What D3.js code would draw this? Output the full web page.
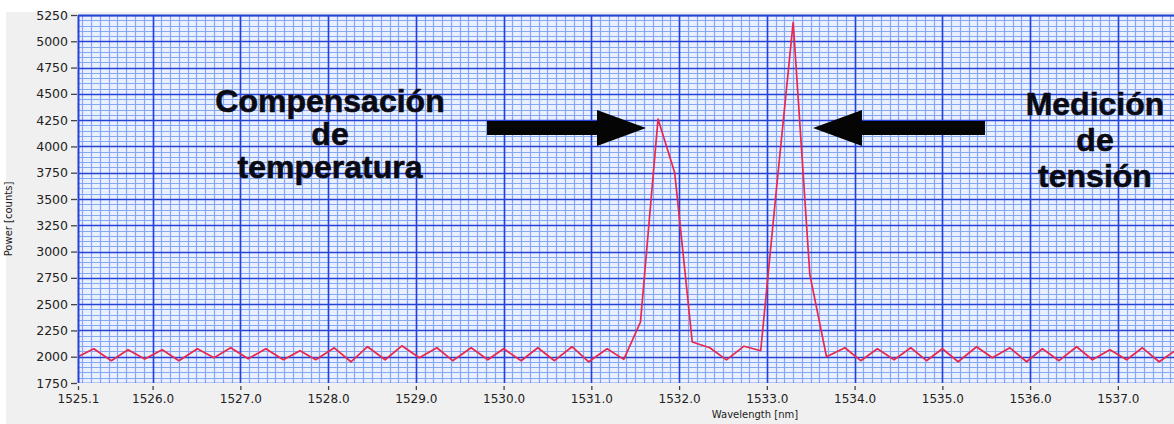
<!DOCTYPE html>
<html>
<head>
<meta charset="utf-8">
<script src="https://cdn.jsdelivr.net/npm/d3@7"></script>
<style>
  html, body { margin: 0; padding: 0; background: #ffffff; }
  svg { display: block; }
</style>
</head>
<body>
<svg id="chart" width="1174" height="424"></svg>
<script>
// Spectrum samples: wavelength (nm) and detected power (counts)
const wavelength = [
  1525.15, 1525.33, 1525.53, 1525.72, 1525.91, 1526.11, 1526.30, 1526.51, 1526.70, 1526.89,
  1527.09, 1527.29, 1527.49, 1527.68, 1527.86, 1528.07, 1528.26, 1528.45, 1528.65, 1528.84,
  1529.04, 1529.24, 1529.42, 1529.63, 1529.82, 1530.00, 1530.20, 1530.39, 1530.58, 1530.78,
  1530.97, 1531.18, 1531.37, 1531.56, 1531.76, 1531.95, 1532.15, 1532.35, 1532.54, 1532.74,
  1532.93, 1533.11, 1533.30, 1533.49, 1533.68, 1533.89, 1534.07, 1534.26, 1534.45, 1534.64,
  1534.82, 1535.00, 1535.18, 1535.39, 1535.57, 1535.77, 1535.96, 1536.14, 1536.33, 1536.53,
  1536.71, 1536.91, 1537.10, 1537.28, 1537.47, 1537.67
];
const power = [
  2000, 2076, 1962, 2066, 1978, 2066, 1962, 2076, 1990, 2085,
  1980, 2076, 1971, 2057, 1971, 2085, 1952, 2095, 1971, 2104,
  1990, 2085, 1962, 2085, 1971, 2076, 1962, 2085, 1962, 2095,
  1952, 2076, 1975, 2330, 4260, 3750, 2140, 2085, 1970, 2100,
  2057, 3600, 5180, 2780, 2000, 2085, 1962, 2076, 1971, 2085,
  1962, 2076, 1952, 2095, 1990, 2085, 1952, 2076, 1962, 2095,
  1971, 2066, 1971, 2085, 1952, 2066
];

// Axis ticks
const xTickValues = [1525.15, 1526, 1527, 1528, 1529, 1530, 1531, 1532, 1533, 1534, 1535, 1536, 1537];
const xTickLabels = ["1525.1", "1526.0", "1527.0", "1528.0", "1529.0", "1530.0", "1531.0",
                     "1532.0", "1533.0", "1534.0", "1535.0", "1536.0", "1537.0"];
const yTickValues = [1750, 2000, 2250, 2500, 2750, 3000, 3250, 3500, 3750, 4000, 4250, 4500, 4750, 5000, 5250];

// Annotation texts
const leftNote = ["Compensación", "de", "temperatura"];
const rightNote = ["Medición", "de", "tensión"];

const xDomain = [1525.15, 1537.64];
const yDomain = [1750, 5250];

const svg = d3.select("#chart");
const W = 1174, H = 424;
const plot = { left: 78, top: 15, right: 1174, bottom: 383 };

const x = d3.scaleLinear().domain(xDomain).range([plot.left, plot.right]);
const y = d3.scaleLinear().domain(yDomain).range([plot.bottom, plot.top]);

// Window background
svg.append("rect").attr("x", 0).attr("y", 0).attr("width", W).attr("height", H).attr("fill", "#ffffff");
svg.append("rect").attr("x", 6).attr("y", 12).attr("width", W - 6).attr("height", H - 12).attr("fill", "#f0f0f0");

svg.append("defs").append("clipPath").attr("id", "plotClip")
  .append("rect")
  .attr("x", plot.left).attr("y", plot.top)
  .attr("width", plot.right - plot.left).attr("height", plot.bottom - plot.top);

const g = svg.append("g").attr("clip-path", "url(#plotClip)");

g.append("rect")
  .attr("x", plot.left).attr("y", plot.top)
  .attr("width", plot.right - plot.left).attr("height", plot.bottom - plot.top)
  .attr("fill", "#eaf0ff");

// Minor grid: 0.1 nm and 50 counts
const minorX = d3.range(Math.ceil(xDomain[0] * 10), Math.floor(xDomain[1] * 10) + 1).map(d => d / 10);
const minorY = d3.range(yDomain[0], yDomain[1] + 1, 50);
g.append("g").selectAll("line").data(minorX).join("line")
  .attr("x1", d => Math.round(x(d)) + 0.5).attr("x2", d => Math.round(x(d)) + 0.5)
  .attr("y1", plot.top).attr("y2", plot.bottom)
  .attr("stroke", "#86a8f0").attr("stroke-width", 1.2);
g.append("g").selectAll("line").data(minorY).join("line")
  .attr("y1", d => Math.round(y(d)) + 0.5).attr("y2", d => Math.round(y(d)) + 0.5)
  .attr("x1", plot.left).attr("x2", plot.right)
  .attr("stroke", "#86a8f0").attr("stroke-width", 1.2);

// Major grid: 1 nm and 250 counts
const majorX = d3.range(Math.ceil(xDomain[0]), Math.floor(xDomain[1]) + 1);
g.append("g").selectAll("line").data(majorX).join("line")
  .attr("x1", d => Math.round(x(d)) + 0.5).attr("x2", d => Math.round(x(d)) + 0.5)
  .attr("y1", plot.top).attr("y2", plot.bottom)
  .attr("stroke", "#2443d6").attr("stroke-width", 1.6);
g.append("g").selectAll("line").data(yTickValues).join("line")
  .attr("y1", d => Math.round(y(d)) + 0.5).attr("y2", d => Math.round(y(d)) + 0.5)
  .attr("x1", plot.left).attr("x2", plot.right)
  .attr("stroke", "#2443d6").attr("stroke-width", 1.6);

// Plot frame (left and top edges)
svg.append("line").attr("x1", plot.left + 0.5).attr("x2", plot.left + 0.5)
  .attr("y1", plot.top).attr("y2", plot.bottom).attr("stroke", "#2443d6").attr("stroke-width", 2);
svg.append("line").attr("x1", plot.left).attr("x2", plot.right)
  .attr("y1", plot.top + 0.5).attr("y2", plot.top + 0.5).attr("stroke", "#2443d6").attr("stroke-width", 2);

// Spectrum trace
const line = d3.line().x((d, i) => x(wavelength[i])).y(d => y(d));
g.append("path").datum(power)
  .attr("d", line)
  .attr("fill", "none")
  .attr("stroke", "#e8284e")
  .attr("stroke-width", 1.7)
  .attr("stroke-linejoin", "round");

// Y axis ticks and labels
const yAxis = d3.axisLeft(y).tickValues(yTickValues).tickSize(6).tickPadding(3).tickFormat(d3.format("d"));
const ya = svg.append("g").attr("transform", `translate(${plot.left - 1},0)`).call(yAxis);
ya.select(".domain").remove();
ya.selectAll(".tick line").attr("stroke", "#444").attr("stroke-width", 1.3);
ya.selectAll(".tick text").attr("fill", "#222").style("font-family", "'DejaVu Sans', Verdana, sans-serif").style("font-size", "12.5px");

// X axis ticks and labels
const xAxis = d3.axisBottom(x).tickValues(xTickValues).tickSize(4).tickPadding(4)
  .tickFormat((d, i) => xTickLabels[i]);
const xa = svg.append("g").attr("transform", `translate(0,${plot.bottom + 3})`).call(xAxis);
xa.select(".domain").remove();
xa.selectAll(".tick line").attr("stroke", "#444").attr("stroke-width", 1.3);
xa.selectAll(".tick text").attr("fill", "#222").style("font-family", "'DejaVu Sans', Verdana, sans-serif").style("font-size", "12px");

// Axis titles
svg.append("text")
  .attr("x", 755).attr("y", 418)
  .attr("text-anchor", "middle")
  .style("font-family", "'DejaVu Sans', Verdana, sans-serif").style("font-size", "10px").attr("fill", "#222")
  .text("Wavelength [nm]");
svg.append("text")
  .attr("transform", `translate(12,${(plot.top + plot.bottom) / 2 + 20}) rotate(-90)`)
  .attr("text-anchor", "middle")
  .style("font-family", "'DejaVu Sans', Verdana, sans-serif").style("font-size", "10px").attr("fill", "#222")
  .text("Power [counts]");

// Annotations
const noteFont = "'Liberation Sans', Arial, Helvetica, sans-serif";
function note(lines, cx, y0, dy) {
  svg.append("g").selectAll("text").data(lines).join("text")
    .attr("x", cx).attr("y", (d, i) => y0 + i * dy)
    .attr("text-anchor", "middle")
    .style("font-family", noteFont).style("font-weight", "bold").style("font-size", "32px")
    .attr("fill", "#0a0a14")
    .attr("stroke", "#0a0a14").attr("stroke-width", 0.6)
    .text(d => d);
}
note(leftNote, 330, 112, 33);
note(rightNote, 1095, 115, 36);

// Arrows pointing at the two reflection peaks
const arrowY = 128;
svg.append("path")
  .attr("d", `M487,${arrowY - 7} L597,${arrowY - 7} L597,${arrowY - 18} L646,${arrowY} L597,${arrowY + 18} L597,${arrowY + 7} L487,${arrowY + 7} Z`)
  .attr("fill", "#050505");
svg.append("path")
  .attr("d", `M985,${arrowY - 7} L862,${arrowY - 7} L862,${arrowY - 18} L813,${arrowY} L862,${arrowY + 18} L862,${arrowY + 7} L985,${arrowY + 7} Z`)
  .attr("fill", "#050505");
</script>
</body>
</html>
